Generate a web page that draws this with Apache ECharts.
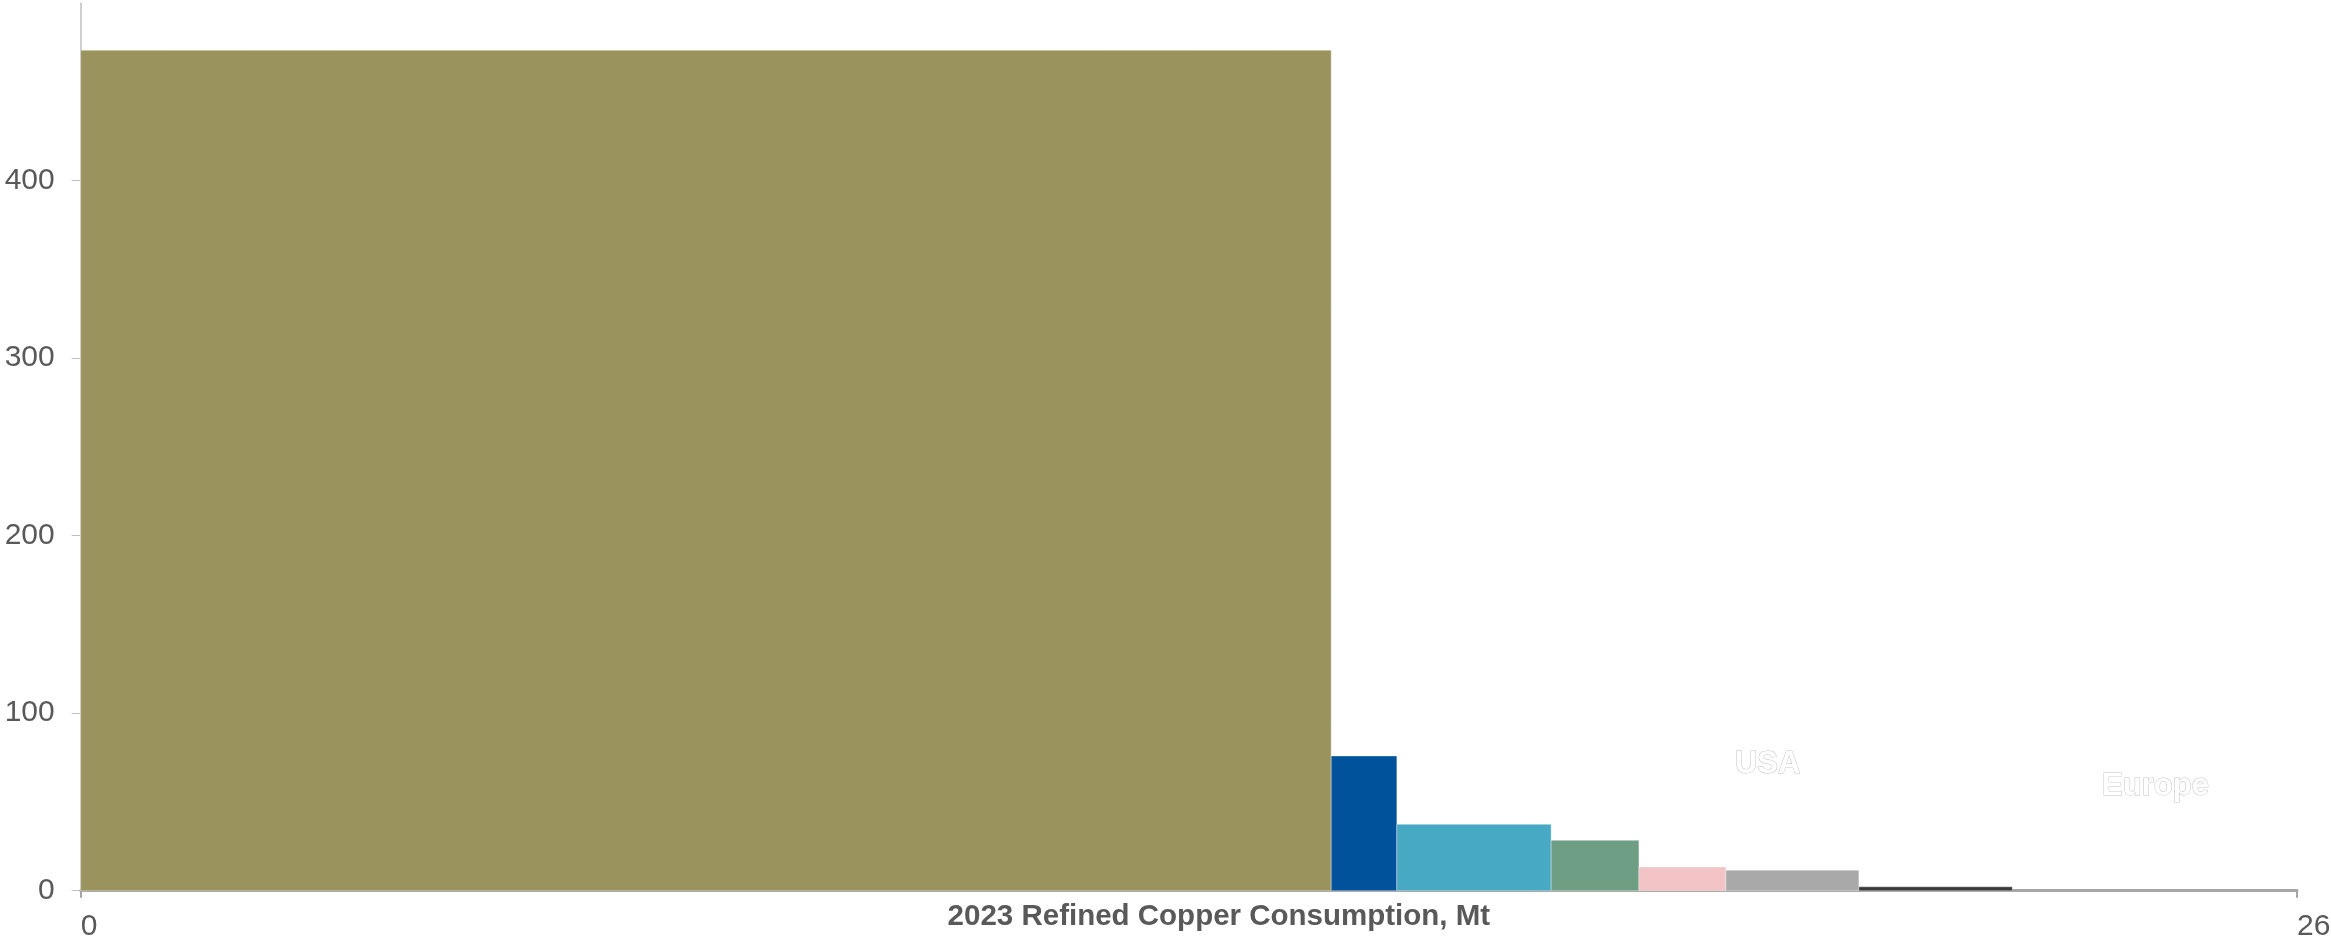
<!DOCTYPE html>
<html>
<head>
<meta charset="utf-8">
<script src="https://cdn.jsdelivr.net/npm/echarts@6/dist/echarts.min.js"></script>
<style>
  html, body { margin: 0; padding: 0; background: #ffffff; }
  #chart { width: 2331px; height: 937px; }
</style>
</head>
<body>
<div id="chart"></div>
<script>
// Regions in order of plotting; bar width = 2023 refined copper consumption (Mt)
const regions = ['China', 'Region B', 'Region C', 'Region D', 'Region E', 'Region F', 'USA', 'Europe'];
const consumptionMt = [14.67, 0.77, 1.81, 1.03, 1.02, 1.56, 1.80, 3.34];
// Bar height on the value axis
const barValues = [473.5, 75.9, 37.4, 28.4, 13.4, 11.5, 2.2, 0];
const barColors = ['#9b935e', '#00539b', '#48a9c5', '#6e9f84', '#f2c4c5', '#a9a9a9', '#3a3a3a', '#a6a6a6'];

// Axis ticks
const yTicks = [0, 100, 200, 300, 400];
const xTicks = [0, 26];

// Region name tags, anchored in data units [consumption, value]
const tagTexts = ['USA', 'Europe'];
const tagAnchors = [[19.79, 71.4], [24.34, 59.0]];

// Build cumulative [start, end, value] rows for the variable-width bars
const barRows = [];
let runX = 0;
for (let i = 0; i < regions.length; i++) {
  barRows.push([runX, runX + consumptionMt[i], barValues[i], i]);
  runX += consumptionMt[i];
}

const FONT = '"Liberation Sans", Arial, Helvetica, sans-serif';
const chart = echarts.init(document.getElementById('chart'), null, { renderer: 'canvas' });

chart.setOption({
  animation: false,
  backgroundColor: '#ffffff',
  grid: { left: 80.7, right: 34, top: 3.2, bottom: 46.3, containLabel: false, outerBoundsMode: 'none' },
  xAxis: {
    type: 'value',
    min: 0,
    max: 26,
    interval: 26,
    name: '2023 Refined Copper Consumption, Mt',
    nameLocation: 'middle',
    nameGap: 26,
    nameMoveOverlap: false,
    nameTextStyle: {
      fontFamily: FONT, fontSize: 29.5, fontWeight: 'bold', color: '#595959',
      verticalAlign: 'middle', padding: [0, 0, 0, 60]
    },
    axisLine: { show: true, lineStyle: { color: '#a6a6a6', width: 3 } },
    axisTick: { show: true, customValues: xTicks, length: 7, lineStyle: { color: '#a6a6a6', width: 2 } },
    axisLabel: {
      customValues: xTicks, fontFamily: FONT, fontSize: 30, color: '#595959',
      align: 'left', margin: 21
    },
    splitLine: { show: false }
  },
  yAxis: {
    type: 'value',
    min: 0,
    max: 500,
    interval: 100,
    axisLine: { show: true, lineStyle: { color: '#bfbfbf', width: 1.5 } },
    axisTick: { show: true, customValues: yTicks, length: 9, lineStyle: { color: '#bfbfbf', width: 1 } },
    axisLabel: {
      customValues: yTicks, fontFamily: FONT, fontSize: 30, color: '#595959', margin: 26,
      align: 'right', verticalAlign: 'middle'
    },
    splitLine: { show: false }
  },
  series: [
    {
      type: 'custom',
      data: barRows,
      encode: { x: [0, 1], y: 2 },
      renderItem: function (params, api) {
        const x0 = api.value(0), x1 = api.value(1), v = api.value(2);
        const idx = api.value(3);
        const topLeft = api.coord([x0, v]);
        const bottomRight = api.coord([x1, 0]);
        const h = bottomRight[1] - topLeft[1];
        if (h <= 0) return null;
        return {
          type: 'rect',
          shape: { x: topLeft[0], y: topLeft[1], width: bottomRight[0] - topLeft[0], height: h },
          style: { fill: barColors[idx], stroke: 'rgba(255,255,255,0.35)', lineWidth: 1 }
        };
      },
      z: 1
    },
    {
      type: 'custom',
      data: tagAnchors.map((p, i) => [p[0], p[1], i]),
      encode: { x: 0, y: 1 },
      renderItem: function (params, api) {
        const pt = api.coord([api.value(0), api.value(1)]);
        return {
          type: 'text',
          x: pt[0],
          y: pt[1],
          style: {
            text: tagTexts[api.value(2)],
            font: 'bold 31px ' + FONT,
            fill: '#ffffff',
            stroke: '#c4c4c4',
            lineWidth: 1,
            align: 'center',
            verticalAlign: 'middle'
          }
        };
      },
      z: 5
    }
  ]
});
</script>
</body>
</html>
